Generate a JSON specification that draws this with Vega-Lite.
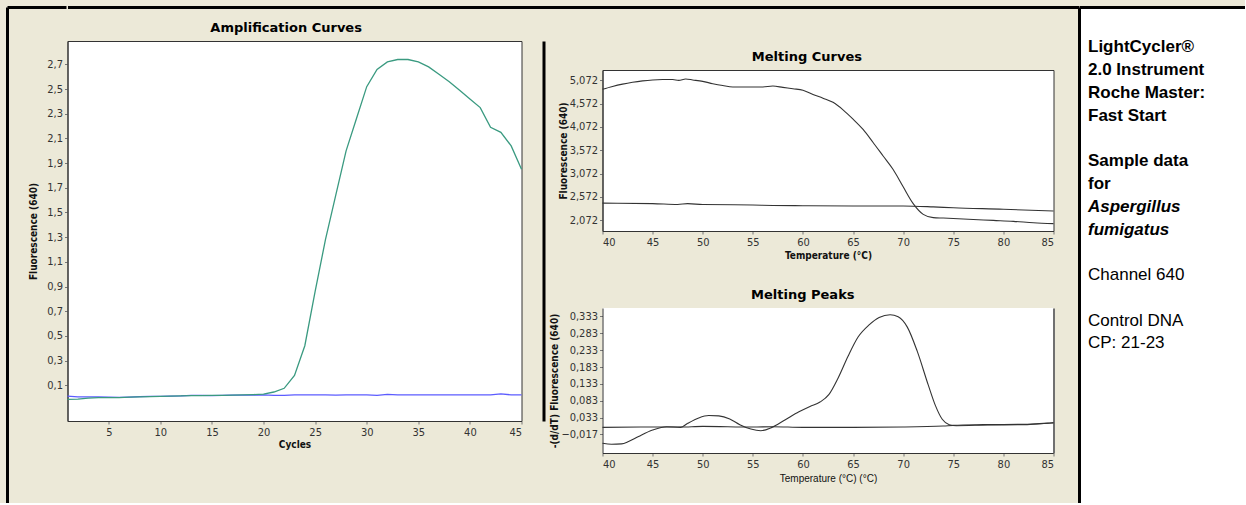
{
  "$schema": "https://vega.github.io/schema/vega-lite/v6.json",
  "background": "#ECE9D8",
  "padding": {"left": 7, "top": 7, "right": 0, "bottom": 0},
  "spacing": -1,
  "config": {
    "view": {"fill": "white", "stroke": "#333333", "strokeWidth": 1},
    "axis": {
      "grid": false,
      "labelFont": "Liberation Sans Narrow, DejaVu Sans Condensed, sans-serif",
      "labelFontSize": 11,
      "labelColor": "#333333",
      "labelPadding": 2,
      "tickSize": 3,
      "tickColor": "#777777",
      "domainColor": "#333333",
      "titleFont": "DejaVu Sans Condensed, Liberation Sans Narrow, sans-serif",
      "titleFontSize": 10,
      "titleFontWeight": "bold",
      "titleColor": "#111111"
    },
    "title": {"font": "DejaVu Sans", "fontSize": 13, "fontWeight": "bold", "color": "#000000", "anchor": "middle", "frame": "bounds", "offset": 6}
  },
  "hconcat": [
    {
      "spacing": -38.5,
      "hconcat": [
        {
          "width": 59,
          "height": 496,
          "view": {"fill": null, "stroke": null},
          "data": {"values": []},
          "mark": {"type": "rule", "opacity": 0},
          "encoding": {
            "x": {"datum": 0, "type": "quantitative", "scale": {"domain": [0, 1], "nice": false},
                  "axis": {"orient": "top", "title": null, "labels": false, "ticks": false, "domainColor": "#000000", "domainWidth": 3}},
            "y": {"datum": 0, "type": "quantitative", "scale": {"domain": [0, 1], "nice": false},
                  "axis": {"orient": "left", "title": null, "labels": false, "ticks": false, "domainColor": "#000000", "domainWidth": 3}}
          }
        },
        {
          "spacing": -54,
          "hconcat": [
            {
              "spacing": 13,
              "vconcat": [
                {
                  "width": 535,
                  "height": 1,
                  "view": {"fill": null, "stroke": null},
                  "data": {"values": []},
                  "mark": {"type": "rule", "opacity": 0},
                  "encoding": {
                    "x": {"datum": 0, "type": "quantitative", "scale": {"domain": [0, 1], "nice": false},
                          "axis": {"orient": "top", "title": null, "labels": false, "ticks": false, "domainColor": "#000000", "domainWidth": 3}}
                  }
                },
                {
                  "width": 454,
                  "height": 380,
                  "title": {"text": "Amplification Curves"},
                  "data": {"values": [
                    {"sample": "Control", "cycle": 1, "fluo": 0.012}, {"sample": "Control", "cycle": 2, "fluo": 0.006}, {"sample": "Control", "cycle": 3, "fluo": 0.005}, {"sample": "Control", "cycle": 4, "fluo": 0.005}, {"sample": "Control", "cycle": 5, "fluo": 0.003},
                    {"sample": "Control", "cycle": 6, "fluo": 0.002}, {"sample": "Control", "cycle": 7, "fluo": 0.004}, {"sample": "Control", "cycle": 8, "fluo": 0.007}, {"sample": "Control", "cycle": 9, "fluo": 0.009}, {"sample": "Control", "cycle": 10, "fluo": 0.01},
                    {"sample": "Control", "cycle": 11, "fluo": 0.012}, {"sample": "Control", "cycle": 12, "fluo": 0.014}, {"sample": "Control", "cycle": 13, "fluo": 0.018}, {"sample": "Control", "cycle": 14, "fluo": 0.018}, {"sample": "Control", "cycle": 15, "fluo": 0.016},
                    {"sample": "Control", "cycle": 16, "fluo": 0.018}, {"sample": "Control", "cycle": 17, "fluo": 0.019}, {"sample": "Control", "cycle": 18, "fluo": 0.02}, {"sample": "Control", "cycle": 19, "fluo": 0.02}, {"sample": "Control", "cycle": 20, "fluo": 0.021},
                    {"sample": "Control", "cycle": 21, "fluo": 0.017}, {"sample": "Control", "cycle": 22, "fluo": 0.017}, {"sample": "Control", "cycle": 23, "fluo": 0.021}, {"sample": "Control", "cycle": 24, "fluo": 0.021}, {"sample": "Control", "cycle": 25, "fluo": 0.021},
                    {"sample": "Control", "cycle": 26, "fluo": 0.021}, {"sample": "Control", "cycle": 27, "fluo": 0.019}, {"sample": "Control", "cycle": 28, "fluo": 0.021}, {"sample": "Control", "cycle": 29, "fluo": 0.021}, {"sample": "Control", "cycle": 30, "fluo": 0.021},
                    {"sample": "Control", "cycle": 31, "fluo": 0.018}, {"sample": "Control", "cycle": 32, "fluo": 0.025}, {"sample": "Control", "cycle": 33, "fluo": 0.022}, {"sample": "Control", "cycle": 34, "fluo": 0.021}, {"sample": "Control", "cycle": 35, "fluo": 0.021},
                    {"sample": "Control", "cycle": 36, "fluo": 0.021}, {"sample": "Control", "cycle": 37, "fluo": 0.021}, {"sample": "Control", "cycle": 38, "fluo": 0.021}, {"sample": "Control", "cycle": 39, "fluo": 0.021}, {"sample": "Control", "cycle": 40, "fluo": 0.021},
                    {"sample": "Control", "cycle": 41, "fluo": 0.021}, {"sample": "Control", "cycle": 42, "fluo": 0.021}, {"sample": "Control", "cycle": 43, "fluo": 0.03}, {"sample": "Control", "cycle": 44, "fluo": 0.022}, {"sample": "Control", "cycle": 45, "fluo": 0.022},
                    {"sample": "Aspergillus", "cycle": 1, "fluo": -0.015}, {"sample": "Aspergillus", "cycle": 2, "fluo": -0.012}, {"sample": "Aspergillus", "cycle": 3, "fluo": -0.005}, {"sample": "Aspergillus", "cycle": 4, "fluo": 0.0}, {"sample": "Aspergillus", "cycle": 5, "fluo": 0.0},
                    {"sample": "Aspergillus", "cycle": 6, "fluo": 0.0}, {"sample": "Aspergillus", "cycle": 7, "fluo": 0.003}, {"sample": "Aspergillus", "cycle": 8, "fluo": 0.005}, {"sample": "Aspergillus", "cycle": 9, "fluo": 0.008}, {"sample": "Aspergillus", "cycle": 10, "fluo": 0.01},
                    {"sample": "Aspergillus", "cycle": 11, "fluo": 0.012}, {"sample": "Aspergillus", "cycle": 12, "fluo": 0.013}, {"sample": "Aspergillus", "cycle": 13, "fluo": 0.015}, {"sample": "Aspergillus", "cycle": 14, "fluo": 0.016}, {"sample": "Aspergillus", "cycle": 15, "fluo": 0.017},
                    {"sample": "Aspergillus", "cycle": 16, "fluo": 0.018}, {"sample": "Aspergillus", "cycle": 17, "fluo": 0.02}, {"sample": "Aspergillus", "cycle": 18, "fluo": 0.022}, {"sample": "Aspergillus", "cycle": 19, "fluo": 0.024}, {"sample": "Aspergillus", "cycle": 20, "fluo": 0.027},
                    {"sample": "Aspergillus", "cycle": 21, "fluo": 0.045}, {"sample": "Aspergillus", "cycle": 22, "fluo": 0.075}, {"sample": "Aspergillus", "cycle": 23, "fluo": 0.18}, {"sample": "Aspergillus", "cycle": 24, "fluo": 0.42}, {"sample": "Aspergillus", "cycle": 25, "fluo": 0.86},
                    {"sample": "Aspergillus", "cycle": 26, "fluo": 1.28}, {"sample": "Aspergillus", "cycle": 27, "fluo": 1.64}, {"sample": "Aspergillus", "cycle": 28, "fluo": 2.0}, {"sample": "Aspergillus", "cycle": 29, "fluo": 2.26}, {"sample": "Aspergillus", "cycle": 30, "fluo": 2.52},
                    {"sample": "Aspergillus", "cycle": 31, "fluo": 2.66}, {"sample": "Aspergillus", "cycle": 32, "fluo": 2.72}, {"sample": "Aspergillus", "cycle": 33, "fluo": 2.74}, {"sample": "Aspergillus", "cycle": 34, "fluo": 2.74}, {"sample": "Aspergillus", "cycle": 35, "fluo": 2.72},
                    {"sample": "Aspergillus", "cycle": 36, "fluo": 2.68}, {"sample": "Aspergillus", "cycle": 37, "fluo": 2.62}, {"sample": "Aspergillus", "cycle": 38, "fluo": 2.56}, {"sample": "Aspergillus", "cycle": 39, "fluo": 2.49}, {"sample": "Aspergillus", "cycle": 40, "fluo": 2.42},
                    {"sample": "Aspergillus", "cycle": 41, "fluo": 2.35}, {"sample": "Aspergillus", "cycle": 42, "fluo": 2.19}, {"sample": "Aspergillus", "cycle": 43, "fluo": 2.15}, {"sample": "Aspergillus", "cycle": 44, "fluo": 2.04}, {"sample": "Aspergillus", "cycle": 45, "fluo": 1.85}
                  ]},
                  "layer": [
                    {
                      "mark": {"type": "line", "strokeWidth": 1.3},
                      "encoding": {
                        "x": {"field": "cycle", "type": "quantitative", "scale": {"domain": [1, 45], "nice": false, "zero": false},
                              "axis": {"title": "Cycles", "values": [5, 10, 15, 20, 25, 30, 35, 40, 45], "titlePadding": 2}},
                        "y": {"field": "fluo", "type": "quantitative", "scale": {"domain": [-0.19, 2.89], "nice": false, "zero": false},
                              "axis": {"orient": "left", "title": "Fluorescence (640)", "values": [0.1, 0.3, 0.5, 0.7, 0.9, 1.1, 1.3, 1.5, 1.7, 1.9, 2.1, 2.3, 2.5, 2.7],
                                       "labelExpr": "replace(format(datum.value, '.1f'), '.', ',')", "titlePadding": 8}},
                        "color": {"field": "sample", "type": "nominal", "scale": {"domain": ["Control", "Aspergillus"], "range": ["#5c5cff", "#3a9a80"]}, "legend": null}
                      }
                    },
                    {
                      "mark": {"type": "rule", "opacity": 0},
                      "encoding": {
                        "y": {"datum": 0, "type": "quantitative",
                              "axis": {"orient": "right", "offset": 22, "title": null, "labels": false, "ticks": false, "domainColor": "#000000", "domainWidth": 3}}
                      }
                    }
                  ],
                  "resolve": {"axis": {"y": "independent"}}
                }
              ]
            },
            {
              "spacing": 28,
              "vconcat": [
                {
                  "spacing": 42,
                  "vconcat": [
                    {
                      "width": 476,
                      "height": 1,
                      "view": {"fill": null, "stroke": null},
                      "data": {"values": []},
                      "mark": {"type": "rule", "opacity": 0},
                      "encoding": {
                        "x": {"datum": 0, "type": "quantitative", "scale": {"domain": [0, 1], "nice": false},
                              "axis": {"orient": "top", "title": null, "labels": false, "ticks": false, "domainColor": "#000000", "domainWidth": 3}}
                      }
                    },
                    {
                      "width": 451,
                      "height": 161,
                      "title": {"text": "Melting Curves"},
                      "data": {"values": [
                        {"sample": "Negative", "temp": 40, "fluo": 2.44}, {"sample": "Negative", "temp": 45, "fluo": 2.43}, {"sample": "Negative", "temp": 47.5, "fluo": 2.41}, {"sample": "Negative", "temp": 48.5, "fluo": 2.43},
                        {"sample": "Negative", "temp": 50, "fluo": 2.41}, {"sample": "Negative", "temp": 55, "fluo": 2.4}, {"sample": "Negative", "temp": 57, "fluo": 2.39}, {"sample": "Negative", "temp": 60, "fluo": 2.385},
                        {"sample": "Negative", "temp": 65, "fluo": 2.38}, {"sample": "Negative", "temp": 70, "fluo": 2.38}, {"sample": "Negative", "temp": 73, "fluo": 2.36}, {"sample": "Negative", "temp": 75, "fluo": 2.34},
                        {"sample": "Negative", "temp": 80, "fluo": 2.31}, {"sample": "Negative", "temp": 85, "fluo": 2.27},
                        {"sample": "Positive", "temp": 40, "fluo": 4.88}, {"sample": "Positive", "temp": 41, "fluo": 4.94}, {"sample": "Positive", "temp": 42, "fluo": 4.99}, {"sample": "Positive", "temp": 43, "fluo": 5.03},
                        {"sample": "Positive", "temp": 44, "fluo": 5.06}, {"sample": "Positive", "temp": 45, "fluo": 5.08}, {"sample": "Positive", "temp": 46, "fluo": 5.09}, {"sample": "Positive", "temp": 47, "fluo": 5.09},
                        {"sample": "Positive", "temp": 47.6, "fluo": 5.07}, {"sample": "Positive", "temp": 48.3, "fluo": 5.1}, {"sample": "Positive", "temp": 49, "fluo": 5.08}, {"sample": "Positive", "temp": 50, "fluo": 5.05},
                        {"sample": "Positive", "temp": 51, "fluo": 5.0}, {"sample": "Positive", "temp": 52, "fluo": 4.96}, {"sample": "Positive", "temp": 53, "fluo": 4.93}, {"sample": "Positive", "temp": 54, "fluo": 4.93},
                        {"sample": "Positive", "temp": 55, "fluo": 4.93}, {"sample": "Positive", "temp": 56, "fluo": 4.93}, {"sample": "Positive", "temp": 57, "fluo": 4.95}, {"sample": "Positive", "temp": 58, "fluo": 4.92},
                        {"sample": "Positive", "temp": 59, "fluo": 4.89}, {"sample": "Positive", "temp": 60, "fluo": 4.86}, {"sample": "Positive", "temp": 61, "fluo": 4.77}, {"sample": "Positive", "temp": 62, "fluo": 4.69},
                        {"sample": "Positive", "temp": 63, "fluo": 4.6}, {"sample": "Positive", "temp": 64, "fluo": 4.44}, {"sample": "Positive", "temp": 65, "fluo": 4.24}, {"sample": "Positive", "temp": 66, "fluo": 4.02},
                        {"sample": "Positive", "temp": 67, "fluo": 3.74}, {"sample": "Positive", "temp": 68, "fluo": 3.45}, {"sample": "Positive", "temp": 69, "fluo": 3.16}, {"sample": "Positive", "temp": 70, "fluo": 2.79},
                        {"sample": "Positive", "temp": 71, "fluo": 2.43}, {"sample": "Positive", "temp": 72, "fluo": 2.2}, {"sample": "Positive", "temp": 73, "fluo": 2.13}, {"sample": "Positive", "temp": 74, "fluo": 2.12},
                        {"sample": "Positive", "temp": 75, "fluo": 2.11}, {"sample": "Positive", "temp": 77, "fluo": 2.09}, {"sample": "Positive", "temp": 79, "fluo": 2.07}, {"sample": "Positive", "temp": 81, "fluo": 2.05},
                        {"sample": "Positive", "temp": 83, "fluo": 2.02}, {"sample": "Positive", "temp": 85, "fluo": 2.0}
                      ]},
                      "mark": {"type": "line", "strokeWidth": 1.1, "interpolate": "monotone", "color": "#333333"},
                      "encoding": {
                        "detail": {"field": "sample", "type": "nominal"},
                        "x": {"field": "temp", "type": "quantitative", "scale": {"domain": [40, 85], "nice": false, "zero": false},
                              "axis": {"title": "Temperature (°C)", "values": [40, 45, 50, 55, 60, 65, 70, 75, 80, 85], "titlePadding": 3}},
                        "y": {"field": "fluo", "type": "quantitative", "scale": {"domain": [1.843, 5.293], "nice": false, "zero": false},
                              "axis": {"title": "Fluorescence (640)", "values": [2.072, 2.572, 3.072, 3.572, 4.072, 4.572, 5.072],
                                       "labelExpr": "replace(format(datum.value, '.3f'), '.', ',')", "titlePadding": 1}}
                      }
                    }
                  ]
                },
                {
                  "width": 451,
                  "height": 145,
                  "view": {"fill": "white", "stroke": null},
                  "title": {"text": "Melting Peaks"},
                  "data": {"values": [
                    {"sample": "Negative", "temp": 40, "d": 0.004}, {"sample": "Negative", "temp": 45, "d": 0.005}, {"sample": "Negative", "temp": 47.8, "d": 0.005}, {"sample": "Negative", "temp": 50, "d": 0.007},
                    {"sample": "Negative", "temp": 55, "d": 0.005}, {"sample": "Negative", "temp": 57, "d": 0.006}, {"sample": "Negative", "temp": 60, "d": 0.004}, {"sample": "Negative", "temp": 65, "d": 0.004},
                    {"sample": "Negative", "temp": 70, "d": 0.005}, {"sample": "Negative", "temp": 74, "d": 0.008}, {"sample": "Negative", "temp": 75, "d": 0.01}, {"sample": "Negative", "temp": 78, "d": 0.012},
                    {"sample": "Negative", "temp": 82, "d": 0.013}, {"sample": "Negative", "temp": 85, "d": 0.017},
                    {"sample": "Positive", "temp": 40, "d": -0.043}, {"sample": "Positive", "temp": 40.9, "d": -0.046}, {"sample": "Positive", "temp": 41.9, "d": -0.045}, {"sample": "Positive", "temp": 42.6, "d": -0.038},
                    {"sample": "Positive", "temp": 43.6, "d": -0.023}, {"sample": "Positive", "temp": 45, "d": -0.004}, {"sample": "Positive", "temp": 46.4, "d": 0.006}, {"sample": "Positive", "temp": 47.8, "d": 0.004},
                    {"sample": "Positive", "temp": 48.5, "d": 0.016}, {"sample": "Positive", "temp": 49.6, "d": 0.032}, {"sample": "Positive", "temp": 50.6, "d": 0.039}, {"sample": "Positive", "temp": 51.6, "d": 0.038},
                    {"sample": "Positive", "temp": 52.7, "d": 0.029}, {"sample": "Positive", "temp": 53.7, "d": 0.012}, {"sample": "Positive", "temp": 54.8, "d": -0.001}, {"sample": "Positive", "temp": 55.8, "d": -0.006},
                    {"sample": "Positive", "temp": 56.9, "d": 0.004}, {"sample": "Positive", "temp": 58.2, "d": 0.026}, {"sample": "Positive", "temp": 59.6, "d": 0.05}, {"sample": "Positive", "temp": 60.7, "d": 0.066},
                    {"sample": "Positive", "temp": 61.7, "d": 0.079}, {"sample": "Positive", "temp": 62.6, "d": 0.102}, {"sample": "Positive", "temp": 63.5, "d": 0.15}, {"sample": "Positive", "temp": 64.5, "d": 0.215},
                    {"sample": "Positive", "temp": 65.5, "d": 0.272}, {"sample": "Positive", "temp": 66.6, "d": 0.308}, {"sample": "Positive", "temp": 67.6, "d": 0.33}, {"sample": "Positive", "temp": 68.7, "d": 0.338},
                    {"sample": "Positive", "temp": 69.5, "d": 0.332}, {"sample": "Positive", "temp": 70.4, "d": 0.302}, {"sample": "Positive", "temp": 71.4, "d": 0.23}, {"sample": "Positive", "temp": 72.5, "d": 0.13},
                    {"sample": "Positive", "temp": 73.2, "d": 0.07}, {"sample": "Positive", "temp": 73.9, "d": 0.028}, {"sample": "Positive", "temp": 74.6, "d": 0.012}, {"sample": "Positive", "temp": 75.3, "d": 0.009},
                    {"sample": "Positive", "temp": 78.4, "d": 0.011}, {"sample": "Positive", "temp": 81.9, "d": 0.012}, {"sample": "Positive", "temp": 84.6, "d": 0.017}, {"sample": "Positive", "temp": 85, "d": 0.018}
                  ]},
                  "layer": [
                    {
                      "mark": {"type": "line", "strokeWidth": 1.1, "interpolate": "monotone", "color": "#333333"},
                      "encoding": {
                        "detail": {"field": "sample", "type": "nominal"},
                        "x": {"field": "temp", "type": "quantitative", "scale": {"domain": [40, 85], "nice": false, "zero": false},
                              "axis": {"title": "Temperature (°C)  (°C)", "titleFontWeight": "normal", "titleFont": "Liberation Sans, sans-serif", "titleFontSize": 10, "values": [40, 45, 50, 55, 60, 65, 70, 75, 80, 85], "titlePadding": 4}},
                        "y": {"field": "d", "type": "quantitative", "scale": {"domain": [-0.072, 0.358], "nice": false, "zero": false},
                              "axis": {"orient": "left", "title": "-(d/dT) Fluorescence (640)", "values": [-0.017, 0.033, 0.083, 0.133, 0.183, 0.233, 0.283, 0.333],
                                       "labelExpr": "replace(format(datum.value, '.3f'), '.', ',')", "titlePadding": 1}}
                      }
                    },
                    {
                      "mark": {"type": "rule", "opacity": 0},
                      "encoding": {
                        "y": {"datum": 0, "type": "quantitative",
                              "axis": {"orient": "right", "title": null, "labels": false, "ticks": false, "domainColor": "#707070", "domainWidth": 2}}
                      }
                    }
                  ],
                  "resolve": {"axis": {"y": "independent"}}
                }
              ]
            }
          ]
        }
      ]
    },
    {
      "width": 166,
      "height": 496,
      "view": {"fill": "white", "stroke": null},
      "data": {"values": [
        {"line": 1, "text": "LightCycler®", "kind": "heading"},
        {"line": 2, "text": "2.0 Instrument", "kind": "heading"},
        {"line": 3, "text": "Roche Master:", "kind": "heading"},
        {"line": 4, "text": "Fast Start", "kind": "heading"},
        {"line": 6, "text": "Sample data", "kind": "heading"},
        {"line": 7, "text": "for", "kind": "heading"},
        {"line": 8, "text": "Aspergillus", "kind": "species"},
        {"line": 9, "text": "fumigatus", "kind": "species"},
        {"line": 11, "text": "Channel 640", "kind": "note"},
        {"line": 13, "text": "Control DNA", "kind": "note"},
        {"line": 14, "text": "CP: 21-23", "kind": "note"}
      ]},
      "encoding": {
        "x": {"datum": 0, "type": "quantitative", "scale": {"domain": [0, 1], "nice": false},
              "axis": {"orient": "top", "title": null, "labels": false, "ticks": false, "domainColor": "#000000", "domainWidth": 3}},
        "y": {"field": "line", "type": "quantitative", "scale": {"domain": [-0.78, 21.02], "reverse": true, "nice": false, "zero": false},
              "axis": {"orient": "left", "title": null, "labels": false, "ticks": false, "domainColor": "#000000", "domainWidth": 3}},
        "text": {"field": "text"}
      },
      "layer": [
        {"transform": [{"filter": "datum.kind == 'heading'"}],
         "mark": {"type": "text", "align": "left", "baseline": "middle", "dx": 9, "font": "Liberation Sans", "fontSize": 17, "fontWeight": "bold", "color": "#000000"}},
        {"transform": [{"filter": "datum.kind == 'species'"}],
         "mark": {"type": "text", "align": "left", "baseline": "middle", "dx": 9, "font": "Liberation Sans", "fontSize": 17, "fontWeight": "bold", "fontStyle": "italic", "color": "#000000"}},
        {"transform": [{"filter": "datum.kind == 'note'"}],
         "mark": {"type": "text", "align": "left", "baseline": "middle", "dx": 9, "font": "Liberation Sans", "fontSize": 17, "color": "#000000"}}
      ]
    }
  ]
}
